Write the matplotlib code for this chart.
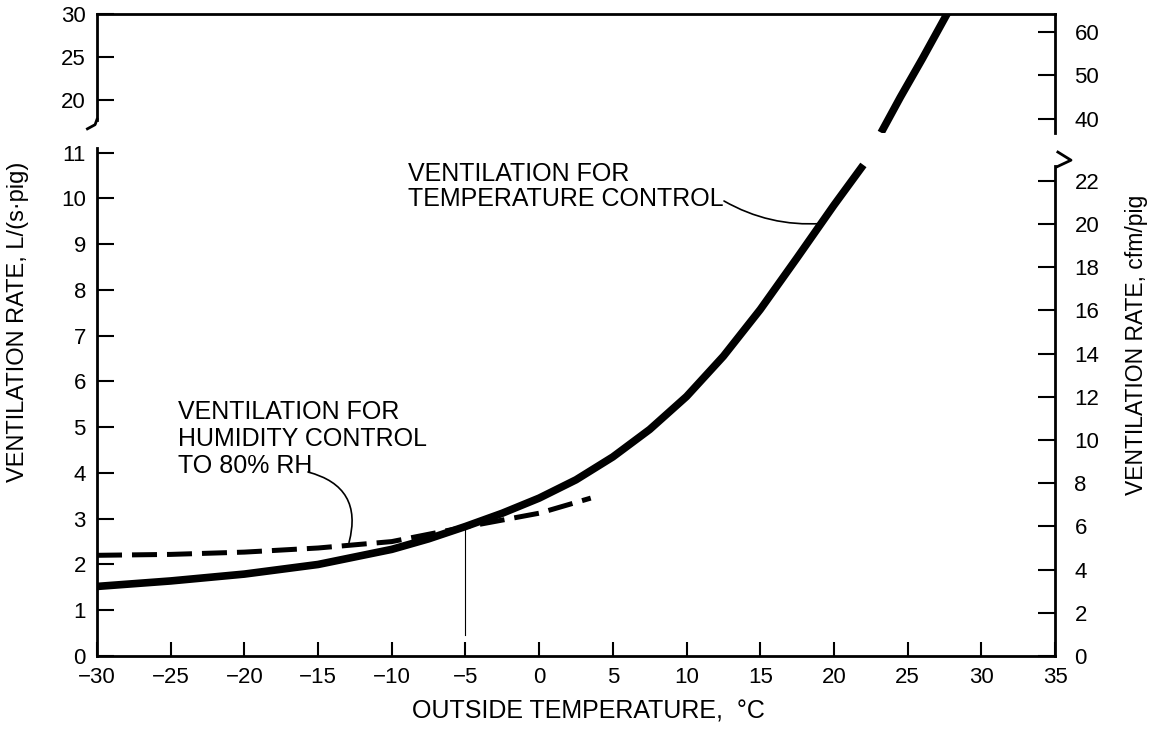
import matplotlib
matplotlib.use("Agg")
import matplotlib.pyplot as plt

plt.rcParams["font.family"] = ["Liberation Sans", "DejaVu Sans"]

# ── data ───────────────────────────────────────────────
# ventilation for temperature control, L/(s·pig)
temp_ctrl_low = [-30, -25, -20, -15, -10, -7.5, -5, -2.5, 0, 2.5, 5, 7.5,
                 10, 12.5, 15, 17.5, 20, 22.0]
vent_ctrl_low = [1.52, 1.64, 1.79, 2.0, 2.33, 2.56, 2.83, 3.12, 3.45, 3.85,
                 4.35, 4.95, 5.67, 6.55, 7.57, 8.7, 9.85, 10.73]
temp_ctrl_high = [23.2, 24.5, 26.0, 27.8]
vent_ctrl_high = [16.2, 20.3, 24.8, 30.4]

# ventilation for humidity control to 80% RH
temp_humid = [-30, -25, -20, -15, -10, -5, 0, 3.5]
vent_humid = [2.2, 2.22, 2.27, 2.36, 2.5, 2.82, 3.12, 3.45]

x_ticks = list(range(-30, 40, 5))
left_low_ticks = list(range(0, 12))
right_low_ticks = list(range(0, 24, 2))
left_high_ticks = [20, 25, 30]
right_high_ticks = [40, 50, 60]

CFM_PER_LS = 2.119

# ── figure ─────────────────────────────────────────────
W, H = 1162, 734
fig = plt.figure(figsize=(W / 100, H / 100), dpi=100)

ax_lo = fig.add_axes([97 / W, 1 - 656 / H, 958 / W, 508 / H])
ax_hi = fig.add_axes([97 / W, 1 - 133 / H, 958 / W, 119 / H], sharex=ax_lo)

LW_SPINE = 2.0
TICK_KW = dict(direction="in", width=1.5, labelsize=16, colors="black")

ax_lo.set_xlim(-30, 35)
ax_lo.set_ylim(0, 11.1)
ax_hi.set_ylim(16.16, 30)

# curves
ax_lo.plot(temp_ctrl_low, vent_ctrl_low, color="black", lw=5.5,
           solid_capstyle="butt", solid_joinstyle="round")
ax_hi.plot(temp_ctrl_high, vent_ctrl_high, color="black", lw=5.5,
           solid_capstyle="butt")
ax_lo.plot(temp_humid, vent_humid, color="black", lw=3.6, dashes=(5, 2),
           dash_capstyle="butt")
ax_lo.plot([-5, -5], [0.45, 2.82], color="black", lw=0.8)

# ── lower panel axes ──
ax_lo.set_xticks(x_ticks)
ax_lo.set_xticklabels([f"{t}".replace("-", "\u2212") for t in x_ticks])
ax_lo.set_yticks(left_low_ticks)
ax_lo.tick_params(axis="x", length=10, pad=8, **TICK_KW)
ax_lo.tick_params(axis="y", length=12, pad=8, **TICK_KW)
ax_lo.spines["top"].set_visible(False)
ax_lo.spines["right"].set_visible(False)
for s in ("left", "bottom"):
    ax_lo.spines[s].set_linewidth(LW_SPINE)

ax_lo_r = ax_lo.twinx()
ax_lo_r.set_ylim(0, 11.1 * CFM_PER_LS)
ax_lo_r.set_yticks(right_low_ticks)
ax_lo_r.tick_params(axis="y", length=12, pad=14, **TICK_KW)
for s in ("left", "top", "bottom"):
    ax_lo_r.spines[s].set_visible(False)
ax_lo_r.spines["right"].set_linewidth(LW_SPINE)
ax_lo_r.spines["right"].set_bounds(0, 22.7)

# break mark ">" on the right
ax_lo.plot([1.003, 1.0167, 1.002], [0.992, 0.976, 0.963],
           transform=ax_lo.transAxes, clip_on=False, color="black", lw=2)

# ── upper panel axes ──
ax_hi.set_yticks(left_high_ticks)
ax_hi.tick_params(axis="x", bottom=False, labelbottom=False)
ax_hi.tick_params(axis="y", length=12, pad=8, **TICK_KW)
ax_hi.spines["bottom"].set_visible(False)
ax_hi.spines["right"].set_visible(False)
for s in ("left", "top"):
    ax_hi.spines[s].set_linewidth(LW_SPINE)
ax_hi.spines["left"].set_bounds(17.67, 30)

ax_hi_r = ax_hi.twinx()
ax_hi_r.set_ylim(36.8, 64.1)
ax_hi_r.set_yticks(right_high_ticks)
ax_hi_r.tick_params(axis="y", length=12, pad=14, **TICK_KW)
for s in ("left", "top", "bottom"):
    ax_hi_r.spines[s].set_visible(False)
ax_hi_r.spines["right"].set_linewidth(LW_SPINE)

# break curl at the bottom of the upper-left spine
ax_hi.plot([0, -0.002, -0.01], [0.115, 0.07, 0.035],
           transform=ax_hi.transAxes, clip_on=False, color="black", lw=2)

# ── annotations ──
ax_lo.text(408 / W, 1 - 162 / H, "VENTILATION FOR\nTEMPERATURE CONTROL",
           transform=fig.transFigure, ha="left", va="top", fontsize=18,
           linespacing=1.06)
ax_lo.annotate("", xy=(19.15, 9.45), xycoords="data",
               xytext=(724 / W, 1 - 201 / H), textcoords="figure fraction",
               arrowprops=dict(arrowstyle="-", color="black", lw=1.2,
                               shrinkA=0, shrinkB=0,
                               connectionstyle="arc3,rad=0.15"))

ax_lo.text(178 / W, 1 - 400 / H, "VENTILATION FOR\nHUMIDITY CONTROL\nTO 80% RH",
           transform=fig.transFigure, ha="left", va="top", fontsize=18,
           linespacing=1.17)
ax_lo.annotate("", xy=(-12.9, 2.48), xycoords="data",
               xytext=(308 / W, 1 - 472 / H), textcoords="figure fraction",
               arrowprops=dict(arrowstyle="-", color="black", lw=1.2,
                               shrinkA=0, shrinkB=0,
                               connectionstyle="arc3,rad=-0.5"))

# ── axis titles ──
fig.text(588 / W, 1 - 712 / H, "OUTSIDE TEMPERATURE,  \u00b0C",
         ha="center", va="center", fontsize=18)
fig.text(18 / W, 1 - 322 / H, "VENTILATION RATE, L/(s\u00b7pig)",
         rotation=90, ha="center", va="center", fontsize=17)
fig.text(1137 / W, 1 - 345 / H, "VENTILATION RATE, cfm/pig",
         rotation=90, ha="center", va="center", fontsize=16.5)

fig.savefig("out.png", dpi=100, facecolor="white")
